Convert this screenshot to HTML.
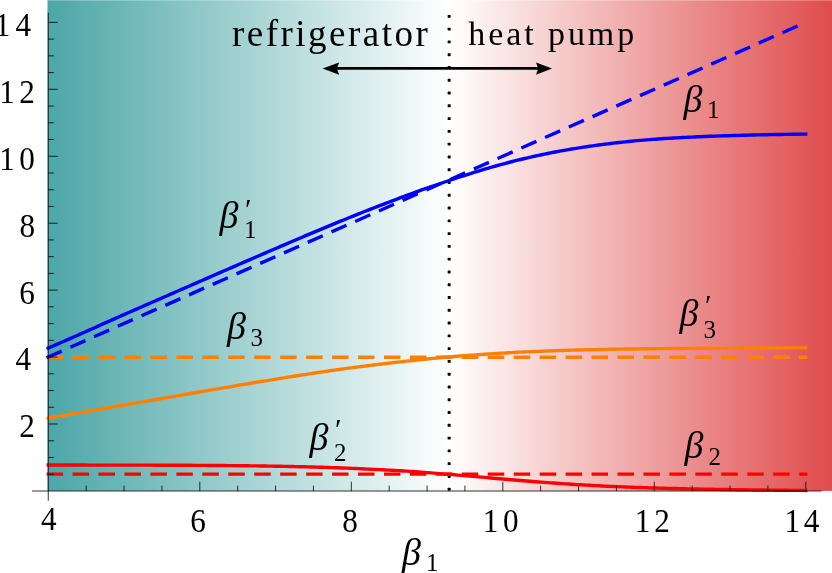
<!DOCTYPE html>
<html lang="en"><head><meta charset="utf-8"><title>Refrigerator / heat pump: inverse temperatures</title>
<style>
html,body{margin:0;padding:0;background:#fff}
body{width:832px;height:573px;overflow:hidden;font-family:"Liberation Serif",serif}
svg{display:block;will-change:transform}
.tl text{font-family:"Liberation Serif",serif;font-size:32.5px;fill:#000;}
.lb text{font-family:"Liberation Serif","DejaVu Serif",serif;fill:#000;stroke:none;}
.lb .b{font-style:italic;font-size:38px;}
.lb .s{font-size:25px;}
.lb .p{font-size:30px;}
</style></head><body>
<svg width="832" height="573" viewBox="0 0 832 573" role="img" aria-label="Plot of inverse temperatures versus beta 1 in refrigerator and heat pump regimes">
<defs>
<linearGradient id="bg" gradientUnits="userSpaceOnUse" x1="47.5" y1="0" x2="832" y2="0">
<stop offset="0" stop-color="#4ca6a7"/>
<stop offset="0.5120" stop-color="#ffffff"/>
<stop offset="1" stop-color="#e04c4c"/>
</linearGradient>
</defs>
<rect x="0" y="0" width="832" height="573" fill="#fff"/>
<rect x="47.5" y="0.25" width="784.5" height="490.65" fill="url(#bg)"/>
<!-- dotted separator -->
<g fill="#000"><rect x="447.65" y="14.90" width="3" height="2.9" rx="0.6"/><rect x="447.65" y="27.68" width="3" height="2.9" rx="0.6"/><rect x="447.65" y="40.46" width="3" height="2.9" rx="0.6"/><rect x="447.65" y="53.24" width="3" height="2.9" rx="0.6"/><rect x="447.65" y="66.02" width="3" height="2.9" rx="0.6"/><rect x="447.65" y="78.80" width="3" height="2.9" rx="0.6"/><rect x="447.65" y="91.58" width="3" height="2.9" rx="0.6"/><rect x="447.65" y="104.36" width="3" height="2.9" rx="0.6"/><rect x="447.65" y="117.14" width="3" height="2.9" rx="0.6"/><rect x="447.65" y="129.92" width="3" height="2.9" rx="0.6"/><rect x="447.65" y="142.70" width="3" height="2.9" rx="0.6"/><rect x="447.65" y="155.48" width="3" height="2.9" rx="0.6"/><rect x="447.65" y="168.26" width="3" height="2.9" rx="0.6"/><rect x="447.65" y="181.04" width="3" height="2.9" rx="0.6"/><rect x="447.65" y="193.82" width="3" height="2.9" rx="0.6"/><rect x="447.65" y="206.60" width="3" height="2.9" rx="0.6"/><rect x="447.65" y="219.38" width="3" height="2.9" rx="0.6"/><rect x="447.65" y="232.16" width="3" height="2.9" rx="0.6"/><rect x="447.65" y="244.94" width="3" height="2.9" rx="0.6"/><rect x="447.65" y="257.72" width="3" height="2.9" rx="0.6"/><rect x="447.65" y="270.50" width="3" height="2.9" rx="0.6"/><rect x="447.65" y="283.28" width="3" height="2.9" rx="0.6"/><rect x="447.65" y="296.06" width="3" height="2.9" rx="0.6"/><rect x="447.65" y="308.84" width="3" height="2.9" rx="0.6"/><rect x="447.65" y="321.62" width="3" height="2.9" rx="0.6"/><rect x="447.65" y="334.40" width="3" height="2.9" rx="0.6"/><rect x="447.65" y="347.18" width="3" height="2.9" rx="0.6"/><rect x="447.65" y="359.96" width="3" height="2.9" rx="0.6"/><rect x="447.65" y="372.74" width="3" height="2.9" rx="0.6"/><rect x="447.65" y="385.52" width="3" height="2.9" rx="0.6"/><rect x="447.65" y="398.30" width="3" height="2.9" rx="0.6"/><rect x="447.65" y="411.08" width="3" height="2.9" rx="0.6"/><rect x="447.65" y="423.86" width="3" height="2.9" rx="0.6"/><rect x="447.65" y="436.64" width="3" height="2.9" rx="0.6"/><rect x="447.65" y="449.42" width="3" height="2.9" rx="0.6"/><rect x="447.65" y="462.20" width="3" height="2.9" rx="0.6"/><rect x="447.65" y="474.98" width="3" height="2.9" rx="0.6"/><rect x="447.65" y="487.76" width="3" height="2.9" rx="0.6"/></g>
<!-- dashed reference lines -->
<g fill="none" stroke-width="3.4" stroke-dasharray="16.5 9.45">
<path d="M46.6 357.2H807.4" stroke="#ff8000"/>
<path d="M46.6 474.1H807.4" stroke="#ff0000"/>
<path d="M46.60 357.75L805.80 22.37" stroke="#0000ff"/>
</g>
<!-- solid curves -->
<g fill="none" stroke-width="3.4" stroke-linejoin="round">
<path d="M46.6 348.81 L49.6 347.50 L52.6 346.20 L55.6 344.89 L58.6 343.59 L61.6 342.28 L64.6 340.97 L67.6 339.65 L70.6 338.33 L73.6 337.01 L76.6 335.68 L79.6 334.35 L82.6 333.02 L85.6 331.69 L88.6 330.35 L91.6 329.02 L94.6 327.68 L97.6 326.34 L100.6 325.00 L103.6 323.67 L106.6 322.33 L109.6 321.00 L112.6 319.66 L115.6 318.33 L118.6 317.00 L121.6 315.68 L124.6 314.35 L127.6 313.03 L130.6 311.72 L133.6 310.40 L136.6 309.09 L139.6 307.78 L142.6 306.46 L145.6 305.15 L148.6 303.83 L151.6 302.52 L154.6 301.21 L157.6 299.89 L160.6 298.58 L163.6 297.26 L166.6 295.95 L169.6 294.64 L172.6 293.32 L175.6 292.01 L178.6 290.70 L181.6 289.39 L184.6 288.07 L187.6 286.76 L190.6 285.45 L193.6 284.14 L196.6 282.83 L199.6 281.52 L202.6 280.21 L205.6 278.90 L208.6 277.59 L211.6 276.28 L214.6 274.97 L217.6 273.66 L220.6 272.36 L223.6 271.05 L226.6 269.75 L229.6 268.44 L232.6 267.14 L235.6 265.83 L238.6 264.53 L241.6 263.23 L244.6 261.93 L247.6 260.63 L250.6 259.33 L253.6 258.03 L256.6 256.73 L259.6 255.44 L262.6 254.14 L265.6 252.85 L268.6 251.55 L271.6 250.26 L274.6 248.97 L277.6 247.69 L280.6 246.40 L283.6 245.12 L286.6 243.84 L289.6 242.56 L292.6 241.28 L295.6 240.00 L298.6 238.73 L301.6 237.46 L304.6 236.19 L307.6 234.92 L310.6 233.66 L313.6 232.40 L316.6 231.14 L319.6 229.88 L322.6 228.63 L325.6 227.38 L328.6 226.13 L331.6 224.89 L334.6 223.65 L337.6 222.41 L340.6 221.17 L343.6 219.95 L346.6 218.73 L349.6 217.51 L352.6 216.30 L355.6 215.10 L358.6 213.91 L361.6 212.72 L364.6 211.54 L367.6 210.36 L370.6 209.19 L373.6 208.02 L376.6 206.86 L379.6 205.70 L382.6 204.55 L385.6 203.40 L388.6 202.26 L391.6 201.12 L394.6 199.98 L397.6 198.84 L400.6 197.71 L403.6 196.58 L406.6 195.46 L409.6 194.34 L412.6 193.23 L415.6 192.12 L418.6 191.03 L421.6 189.94 L424.6 188.87 L427.6 187.82 L430.6 186.79 L433.6 185.77 L436.6 184.76 L439.6 183.76 L442.6 182.76 L445.6 181.76 L448.6 180.74 L451.6 179.73 L454.6 178.73 L457.6 177.73 L460.6 176.74 L463.6 175.76 L466.6 174.79 L469.6 173.82 L472.6 172.87 L475.6 171.94 L478.6 171.01 L481.6 170.10 L484.6 169.20 L487.6 168.31 L490.6 167.44 L493.6 166.58 L496.6 165.74 L499.6 164.91 L502.6 164.09 L505.6 163.29 L508.6 162.50 L511.6 161.73 L514.6 160.96 L517.6 160.22 L520.6 159.48 L523.6 158.76 L526.6 158.05 L529.6 157.36 L532.6 156.68 L535.6 156.01 L538.6 155.36 L541.6 154.72 L544.6 154.09 L547.6 153.48 L550.6 152.88 L553.6 152.29 L556.6 151.72 L559.6 151.16 L562.6 150.61 L565.6 150.08 L568.6 149.56 L571.6 149.05 L574.6 148.56 L577.6 148.07 L580.6 147.60 L583.6 147.14 L586.6 146.70 L589.6 146.26 L592.6 145.84 L595.6 145.43 L598.6 145.03 L601.6 144.63 L604.6 144.25 L607.6 143.87 L610.6 143.51 L613.6 143.15 L616.6 142.80 L619.6 142.47 L622.6 142.14 L625.6 141.82 L628.6 141.51 L631.6 141.21 L634.6 140.92 L637.6 140.64 L640.6 140.38 L643.6 140.12 L646.6 139.87 L649.6 139.63 L652.6 139.41 L655.6 139.19 L658.6 138.98 L661.6 138.77 L664.6 138.57 L667.6 138.38 L670.6 138.20 L673.6 138.03 L676.6 137.85 L679.6 137.69 L682.6 137.53 L685.6 137.38 L688.6 137.23 L691.6 137.09 L694.6 136.95 L697.6 136.82 L700.6 136.69 L703.6 136.56 L706.6 136.44 L709.6 136.32 L712.6 136.21 L715.6 136.10 L718.6 136.00 L721.6 135.90 L724.6 135.80 L727.6 135.70 L730.6 135.61 L733.6 135.52 L736.6 135.44 L739.6 135.36 L742.6 135.28 L745.6 135.20 L748.6 135.13 L751.6 135.05 L754.6 134.98 L757.6 134.92 L760.6 134.85 L763.6 134.79 L766.6 134.73 L769.6 134.67 L772.6 134.61 L775.6 134.56 L778.6 134.50 L781.6 134.45 L784.6 134.40 L787.6 134.35 L790.6 134.30 L793.6 134.26 L796.6 134.21 L799.6 134.17 L802.6 134.13 L805.6 134.09 L807.4 134.06" stroke="#0000ff"/>
<path d="M46.6 418.55 L49.6 418.00 L52.6 417.46 L55.6 416.91 L58.6 416.36 L61.6 415.82 L64.6 415.28 L67.6 414.74 L70.6 414.21 L73.6 413.68 L76.6 413.16 L79.6 412.64 L82.6 412.12 L85.6 411.60 L88.6 411.09 L91.6 410.58 L94.6 410.07 L97.6 409.56 L100.6 409.05 L103.6 408.54 L106.6 408.03 L109.6 407.52 L112.6 407.01 L115.6 406.50 L118.6 405.99 L121.6 405.48 L124.6 404.96 L127.6 404.44 L130.6 403.92 L133.6 403.40 L136.6 402.88 L139.6 402.36 L142.6 401.84 L145.6 401.31 L148.6 400.79 L151.6 400.27 L154.6 399.75 L157.6 399.23 L160.6 398.71 L163.6 398.19 L166.6 397.67 L169.6 397.15 L172.6 396.63 L175.6 396.11 L178.6 395.59 L181.6 395.07 L184.6 394.55 L187.6 394.03 L190.6 393.51 L193.6 392.99 L196.6 392.47 L199.6 391.96 L202.6 391.44 L205.6 390.92 L208.6 390.41 L211.6 389.89 L214.6 389.38 L217.6 388.87 L220.6 388.36 L223.6 387.84 L226.6 387.33 L229.6 386.82 L232.6 386.31 L235.6 385.81 L238.6 385.30 L241.6 384.80 L244.6 384.29 L247.6 383.79 L250.6 383.29 L253.6 382.79 L256.6 382.29 L259.6 381.80 L262.6 381.30 L265.6 380.81 L268.6 380.32 L271.6 379.83 L274.6 379.34 L277.6 378.85 L280.6 378.37 L283.6 377.89 L286.6 377.41 L289.6 376.93 L292.6 376.46 L295.6 375.98 L298.6 375.51 L301.6 375.05 L304.6 374.58 L307.6 374.12 L310.6 373.66 L313.6 373.20 L316.6 372.75 L319.6 372.30 L322.6 371.86 L325.6 371.42 L328.6 370.98 L331.6 370.54 L334.6 370.11 L337.6 369.69 L340.6 369.26 L343.6 368.85 L346.6 368.44 L349.6 368.03 L352.6 367.63 L355.6 367.23 L358.6 366.84 L361.6 366.46 L364.6 366.08 L367.6 365.70 L370.6 365.33 L373.6 364.97 L376.6 364.60 L379.6 364.25 L382.6 363.89 L385.6 363.54 L388.6 363.19 L391.6 362.85 L394.6 362.51 L397.6 362.17 L400.6 361.83 L403.6 361.50 L406.6 361.17 L409.6 360.84 L412.6 360.52 L415.6 360.20 L418.6 359.89 L421.6 359.58 L424.6 359.27 L427.6 358.97 L430.6 358.67 L433.6 358.38 L436.6 358.10 L439.6 357.81 L442.6 357.54 L445.6 357.27 L448.6 357.00 L451.6 356.75 L454.6 356.49 L457.6 356.25 L460.6 356.01 L463.6 355.77 L466.6 355.54 L469.6 355.31 L472.6 355.09 L475.6 354.87 L478.6 354.66 L481.6 354.45 L484.6 354.25 L487.6 354.05 L490.6 353.86 L493.6 353.67 L496.6 353.48 L499.6 353.30 L502.6 353.13 L505.6 352.96 L508.6 352.79 L511.6 352.63 L514.6 352.48 L517.6 352.32 L520.6 352.17 L523.6 352.03 L526.6 351.88 L529.6 351.74 L532.6 351.61 L535.6 351.48 L538.6 351.35 L541.6 351.22 L544.6 351.10 L547.6 350.98 L550.6 350.87 L553.6 350.76 L556.6 350.65 L559.6 350.55 L562.6 350.45 L565.6 350.35 L568.6 350.26 L571.6 350.17 L574.6 350.09 L577.6 350.01 L580.6 349.93 L583.6 349.85 L586.6 349.78 L589.6 349.71 L592.6 349.65 L595.6 349.58 L598.6 349.52 L601.6 349.46 L604.6 349.40 L607.6 349.35 L610.6 349.29 L613.6 349.24 L616.6 349.19 L619.6 349.14 L622.6 349.10 L625.6 349.05 L628.6 349.01 L631.6 348.97 L634.6 348.93 L637.6 348.89 L640.6 348.85 L643.6 348.81 L646.6 348.78 L649.6 348.74 L652.6 348.71 L655.6 348.68 L658.6 348.65 L661.6 348.62 L664.6 348.59 L667.6 348.56 L670.6 348.54 L673.6 348.51 L676.6 348.48 L679.6 348.46 L682.6 348.44 L685.6 348.41 L688.6 348.39 L691.6 348.37 L694.6 348.35 L697.6 348.33 L700.6 348.31 L703.6 348.29 L706.6 348.27 L709.6 348.26 L712.6 348.24 L715.6 348.22 L718.6 348.21 L721.6 348.19 L724.6 348.18 L727.6 348.16 L730.6 348.15 L733.6 348.13 L736.6 348.12 L739.6 348.11 L742.6 348.09 L745.6 348.08 L748.6 348.07 L751.6 348.05 L754.6 348.04 L757.6 348.03 L760.6 348.02 L763.6 348.01 L766.6 347.99 L769.6 347.98 L772.6 347.97 L775.6 347.96 L778.6 347.95 L781.6 347.94 L784.6 347.93 L787.6 347.92 L790.6 347.91 L793.6 347.90 L796.6 347.89 L799.6 347.88 L802.6 347.87 L805.6 347.86 L807.4 347.85" stroke="#ff8000"/>
<path d="M46.6 465.04 L49.6 465.04 L52.6 465.04 L55.6 465.04 L58.6 465.05 L61.6 465.05 L64.6 465.05 L67.6 465.06 L70.6 465.06 L73.6 465.06 L76.6 465.06 L79.6 465.07 L82.6 465.07 L85.6 465.07 L88.6 465.08 L91.6 465.08 L94.6 465.08 L97.6 465.09 L100.6 465.09 L103.6 465.09 L106.6 465.10 L109.6 465.10 L112.6 465.10 L115.6 465.11 L118.6 465.11 L121.6 465.12 L124.6 465.12 L127.6 465.12 L130.6 465.13 L133.6 465.14 L136.6 465.14 L139.6 465.15 L142.6 465.15 L145.6 465.16 L148.6 465.17 L151.6 465.17 L154.6 465.18 L157.6 465.19 L160.6 465.20 L163.6 465.21 L166.6 465.22 L169.6 465.23 L172.6 465.24 L175.6 465.25 L178.6 465.26 L181.6 465.28 L184.6 465.29 L187.6 465.31 L190.6 465.32 L193.6 465.34 L196.6 465.35 L199.6 465.37 L202.6 465.39 L205.6 465.41 L208.6 465.43 L211.6 465.45 L214.6 465.47 L217.6 465.50 L220.6 465.52 L223.6 465.55 L226.6 465.58 L229.6 465.60 L232.6 465.63 L235.6 465.66 L238.6 465.70 L241.6 465.73 L244.6 465.76 L247.6 465.80 L250.6 465.84 L253.6 465.88 L256.6 465.92 L259.6 465.96 L262.6 466.00 L265.6 466.05 L268.6 466.10 L271.6 466.14 L274.6 466.20 L277.6 466.25 L280.6 466.30 L283.6 466.36 L286.6 466.42 L289.6 466.48 L292.6 466.55 L295.6 466.61 L298.6 466.68 L301.6 466.75 L304.6 466.82 L307.6 466.90 L310.6 466.98 L313.6 467.06 L316.6 467.15 L319.6 467.23 L322.6 467.32 L325.6 467.42 L328.6 467.51 L331.6 467.61 L334.6 467.72 L337.6 467.82 L340.6 467.93 L343.6 468.04 L346.6 468.16 L349.6 468.28 L352.6 468.41 L355.6 468.53 L358.6 468.66 L361.6 468.80 L364.6 468.94 L367.6 469.08 L370.6 469.23 L373.6 469.38 L376.6 469.52 L379.6 469.67 L382.6 469.82 L385.6 469.97 L388.6 470.13 L391.6 470.29 L394.6 470.45 L397.6 470.62 L400.6 470.80 L403.6 470.98 L406.6 471.17 L409.6 471.37 L412.6 471.57 L415.6 471.78 L418.6 471.99 L421.6 472.21 L424.6 472.43 L427.6 472.65 L430.6 472.88 L433.6 473.11 L436.6 473.34 L439.6 473.58 L442.6 473.82 L445.6 474.07 L448.6 474.31 L451.6 474.56 L454.6 474.81 L457.6 475.07 L460.6 475.32 L463.6 475.58 L466.6 475.84 L469.6 476.10 L472.6 476.36 L475.6 476.63 L478.6 476.89 L481.6 477.15 L484.6 477.42 L487.6 477.68 L490.6 477.94 L493.6 478.21 L496.6 478.47 L499.6 478.73 L502.6 478.99 L505.6 479.25 L508.6 479.50 L511.6 479.76 L514.6 480.01 L517.6 480.26 L520.6 480.51 L523.6 480.75 L526.6 481.00 L529.6 481.24 L532.6 481.47 L535.6 481.71 L538.6 481.94 L541.6 482.17 L544.6 482.39 L547.6 482.61 L550.6 482.83 L553.6 483.04 L556.6 483.25 L559.6 483.46 L562.6 483.66 L565.6 483.86 L568.6 484.06 L571.6 484.25 L574.6 484.43 L577.6 484.62 L580.6 484.80 L583.6 484.97 L586.6 485.14 L589.6 485.31 L592.6 485.47 L595.6 485.63 L598.6 485.78 L601.6 485.93 L604.6 486.08 L607.6 486.22 L610.6 486.36 L613.6 486.50 L616.6 486.63 L619.6 486.75 L622.6 486.88 L625.6 487.00 L628.6 487.11 L631.6 487.22 L634.6 487.33 L637.6 487.44 L640.6 487.54 L643.6 487.65 L646.6 487.74 L649.6 487.84 L652.6 487.93 L655.6 488.02 L658.6 488.10 L661.6 488.19 L664.6 488.27 L667.6 488.35 L670.6 488.43 L673.6 488.50 L676.6 488.57 L679.6 488.64 L682.6 488.71 L685.6 488.78 L688.6 488.84 L691.6 488.90 L694.6 488.96 L697.6 489.02 L700.6 489.08 L703.6 489.13 L706.6 489.19 L709.6 489.24 L712.6 489.29 L715.6 489.35 L718.6 489.40 L721.6 489.45 L724.6 489.50 L727.6 489.55 L730.6 489.59 L733.6 489.64 L736.6 489.69 L739.6 489.73 L742.6 489.78 L745.6 489.82 L748.6 489.86 L751.6 489.90 L754.6 489.94 L757.6 489.98 L760.6 490.02 L763.6 490.05 L766.6 490.09 L769.6 490.12 L772.6 490.16 L775.6 490.19 L778.6 490.22 L781.6 490.25 L784.6 490.27 L787.6 490.30 L790.6 490.33 L793.6 490.35 L796.6 490.37 L799.6 490.39 L802.6 490.42 L805.6 490.44 L807.4 490.45" stroke="#ff0000"/>
</g>
<!-- axes -->
<g fill="none" stroke="#000" stroke-width="0.8">
<path d="M32.1 491H821.6M48.25 12.6V500.7"/>
<path d="M86.17 491.15V485.55M124.05 491.15V485.55M161.93 491.15V485.55M199.80 491.15V481.75M237.68 491.15V485.55M275.55 491.15V485.55M313.43 491.15V485.55M351.30 491.15V481.75M389.18 491.15V485.55M427.05 491.15V485.55M464.93 491.15V485.55M502.80 491.15V481.75M540.67 491.15V485.55M578.55 491.15V485.55M616.42 491.15V485.55M654.30 491.15V481.75M692.17 491.15V485.55M730.05 491.15V485.55M767.92 491.15V485.55M805.80 491.15V481.75M48.30 474.21H53.90M48.30 457.48H53.90M48.30 440.75H53.90M48.30 424.01H57.70M48.30 407.27H53.90M48.30 390.54H53.90M48.30 373.81H53.90M48.30 357.07H57.70M48.30 340.33H53.90M48.30 323.60H53.90M48.30 306.87H53.90M48.30 290.13H57.70M48.30 273.39H53.90M48.30 256.66H53.90M48.30 239.93H53.90M48.30 223.19H57.70M48.30 206.45H53.90M48.30 189.72H53.90M48.30 172.99H53.90M48.30 156.25H57.70M48.30 139.51H53.90M48.30 122.78H53.90M48.30 106.05H53.90M48.30 89.31H57.70M48.30 72.57H53.90M48.30 55.84H53.90M48.30 39.11H53.90M48.30 22.37H57.70"/>
</g>
<g class="tl">
<text transform="scale(0.96 1.065)" x="-5.40 16.19" y="33.52">14</text>
<text transform="scale(0.96 1.065)" x="-0.76 20.03" y="96.62">12</text>
<text transform="scale(0.96 1.065)" x="-0.92 20.00" y="159.81">10</text>
<text transform="scale(0.96 1.065)" x="20.31" y="222.44">8</text>
<text transform="scale(0.96 1.065)" x="19.94" y="285.35">6</text>
<text transform="scale(0.96 1.065)" x="16.24" y="347.23">4</text>
<text transform="scale(0.96 1.065)" x="20.03" y="410.23">2</text>
<text transform="scale(0.96 1.065)" x="42.64" y="497.37">4</text>
<text transform="scale(0.96 1.065)" x="198.17" y="499.25">6</text>
<text transform="scale(0.96 1.065)" x="356.51" y="499.25">8</text>
<text transform="scale(0.96 1.065)" x="502.78 524.01" y="499.25">10</text>
<text transform="scale(0.96 1.065)" x="661.11 681.59" y="499.25">12</text>
<text transform="scale(0.96 1.065)" x="817.15 837.18" y="499.25">14</text>
</g>
<!-- arrow -->
<g fill="#000" stroke="none">
<path d="M336.5 67.1H538.7V69.7H336.5Z"/>
<path d="M322.6 68.4L339.1 62.5L336.9 68.5L339.1 74.7Z"/>
<path d="M552.1 68.4L536 62.5L538.2 68.5L536 74.7Z"/>
</g>
<!-- labels -->
<g class="lb" fill="#000" stroke="none">
<text aria-label="β′₁"><tspan class="b" x="219.5" y="228.3">β</tspan><tspan class="p" x="245" y="219">′</tspan><tspan class="s" x="244" y="237.8">1</tspan></text>
<text aria-label="β₁"><tspan class="b" x="683.5" y="111.5">β</tspan><tspan class="s" x="707" y="117.8">1</tspan></text>
<text aria-label="β₃"><tspan class="b" x="227" y="339.3">β</tspan><tspan class="s" x="250.5" y="346">3</tspan></text>
<text aria-label="β′₃"><tspan class="b" x="679.5" y="326.3">β</tspan><tspan class="p" x="705" y="315">′</tspan><tspan class="s" x="703.5" y="337.7">3</tspan></text>
<text aria-label="β′₂"><tspan class="b" x="309.5" y="449.7">β</tspan><tspan class="p" x="335" y="438.5">′</tspan><tspan class="s" x="334" y="460.6">2</tspan></text>
<text aria-label="β₂"><tspan class="b" x="684.5" y="457.6">β</tspan><tspan class="s" x="708.5" y="464.5">2</tspan></text>
<text aria-label="β₁ (axis label)"><tspan class="b" x="402" y="564.7">β</tspan><tspan class="s" x="426" y="570.9">1</tspan></text>
<text x="231.9" y="45.75" font-size="37" textLength="196" lengthAdjust="spacing">refrigerator</text>
<text x="468.2" y="44.89" font-size="34" textLength="166" lengthAdjust="spacing">heat pump</text>
</g>
</svg>
</body></html>
